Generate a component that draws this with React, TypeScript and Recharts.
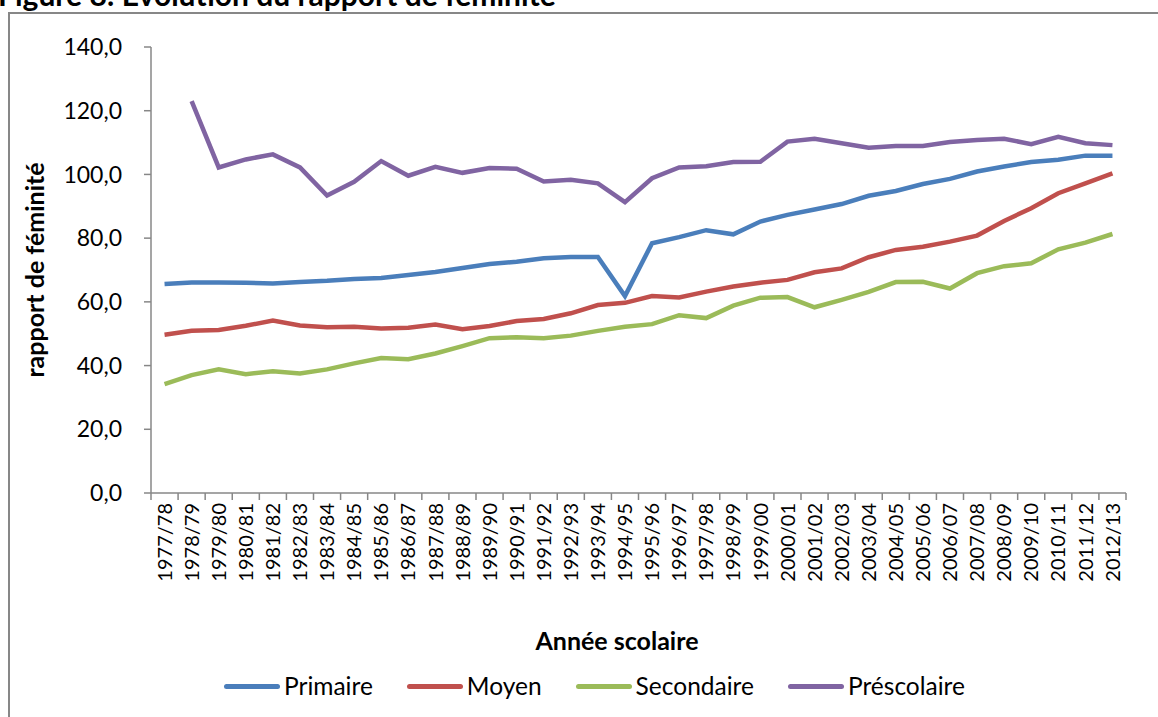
import React from 'react';
import { LineChart, Line, XAxis, YAxis } from 'recharts';

const years = [
  '1977/78', '1978/79', '1979/80', '1980/81', '1981/82', '1982/83', '1983/84', '1984/85', '1985/86',
  '1986/87', '1987/88', '1988/89', '1989/90', '1990/91', '1991/92', '1992/93', '1993/94', '1994/95',
  '1995/96', '1996/97', '1997/98', '1998/99', '1999/00', '2000/01', '2001/02', '2002/03', '2003/04',
  '2004/05', '2005/06', '2006/07', '2007/08', '2008/09', '2009/10', '2010/11', '2011/12', '2012/13',
];

const primaire = [
  65.6, 66.1, 66.1, 66.0, 65.8, 66.2, 66.6, 67.2, 67.5, 68.4, 69.4, 70.6, 71.9, 72.6, 73.7, 74.1, 74.1, 61.8,
  78.4, 80.3, 82.5, 81.2, 85.2, 87.3, 89.0, 90.7, 93.3, 94.8, 97.0, 98.6, 100.9, 102.5, 103.9, 104.6, 105.9, 105.9,
];
const moyen = [
  49.7, 50.9, 51.2, 52.5, 54.1, 52.6, 52.0, 52.2, 51.6, 51.9, 52.9, 51.4, 52.4, 54.0, 54.6, 56.4, 59.0, 59.7,
  61.8, 61.4, 63.2, 64.8, 66.0, 66.9, 69.3, 70.5, 74.0, 76.3, 77.3, 78.9, 80.8, 85.4, 89.4, 94.1, 97.2, 100.3,
];
const secondaire = [
  34.2, 37.0, 38.8, 37.3, 38.2, 37.5, 38.8, 40.7, 42.4, 42.0, 43.8, 46.1, 48.6, 48.9, 48.6, 49.4, 50.9, 52.2,
  53.0, 55.8, 54.9, 58.8, 61.3, 61.5, 58.3, 60.6, 63.1, 66.2, 66.3, 64.2, 69.0, 71.2, 72.1, 76.5, 78.6, 81.3,
];
const prescolaire: (number | null)[] = [
  null, 123.0, 102.2, 104.7, 106.3, 102.2, 93.4, 97.7, 104.2, 99.6, 102.4, 100.5, 102.0, 101.8, 97.8, 98.3, 97.2, 91.3,
  98.8, 102.2, 102.6, 103.9, 104.0, 110.3, 111.2, 109.8, 108.4, 108.9, 108.9, 110.2, 110.8, 111.2, 109.5, 111.8, 109.8, 109.2,
];

const yTicks = [0, 20, 40, 60, 80, 100, 120, 140];

const seriesKeys = ['primaire', 'moyen', 'secondaire', 'prescolaire'];
const seriesNames = ['Primaire', 'Moyen', 'Secondaire', 'Préscolaire'];
const seriesColors = ['#4A7EBB', '#C0504D', '#9BBB59', '#8064A2'];

const titleText = 'Figure 8: Evolution du rapport de féminité';
const xTitle = 'Année scolaire';
const yTitle = 'rapport de féminité';

const data = years.map((y, i) => ({
  year: y,
  primaire: primaire[i],
  moyen: moyen[i],
  secondaire: secondaire[i],
  prescolaire: prescolaire[i],
}));

const FONT = 'Lato, "Liberation Sans", sans-serif';
const AXIS_COLOR = '#878787';

const XTick = (props: any) => {
  const { x, y, payload, index, visibleTicksCount, width } = props;
  const off = payload && typeof payload.offset === 'number' && payload.offset > 0
    ? payload.offset
    : width / years.length / 2;
  const ty = y + 10;
  return (
    <g>
      <line x1={x - off} y1={y} x2={x - off} y2={y + 7} stroke={AXIS_COLOR} strokeWidth={1.5} />
      {index === visibleTicksCount - 1 && (
        <line x1={x + off} y1={y} x2={x + off} y2={y + 7} stroke={AXIS_COLOR} strokeWidth={1.5} />
      )}
      <text
        x={x}
        y={ty}
        transform={`rotate(-90 ${x} ${ty})`}
        textAnchor="end"
        dy="0.36em"
        fontSize={20}
        fontFamily={FONT}
        fill="#000"
      >
        {payload.value}
      </text>
    </g>
  );
};

export default function App() {
  return (
    <div style={{ position: 'absolute', left: 0, top: 0, width: 1158, height: 717, overflow: 'hidden', background: '#fff' }}>
      <div
        style={{
          position: 'absolute',
          left: 8,
          top: 12,
          width: 1200,
          height: 800,
          border: `2px solid ${AXIS_COLOR}`,
          boxSizing: 'border-box',
        }}
      />
      <svg style={{ position: 'absolute', left: 0, top: 0 }} width={1158} height={717}>
        <text x={-2} y={6} fontFamily={FONT} fontWeight="bold" fontSize={30} fill="#000">
          {titleText}
        </text>
        <text x={617} y={641} dy="0.35em" textAnchor="middle" fontFamily={FONT} fontWeight="bold" fontSize={25} fill="#000">
          {xTitle}
        </text>
        <text
          x={35}
          y={270}
          dy="0.35em"
          transform="rotate(-90 35 270)"
          textAnchor="middle"
          fontFamily={FONT}
          fontWeight="bold"
          fontSize={25}
          fill="#000"
        >
          {yTitle}
        </text>
      </svg>
      <div style={{ position: 'absolute', left: 0, top: 0 }}>
        <LineChart
          width={1158}
          height={717}
          data={data}
          margin={{ top: 47, right: 32, left: 51, bottom: 124 }}
        >
          <XAxis
            dataKey="year"
            scale="band"
            interval={0}
            height={100}
            tickSize={0}
            tickMargin={0}
            tickLine={false}
            axisLine={{ stroke: AXIS_COLOR, strokeWidth: 1.5 }}
            tick={<XTick />}
          />
          <YAxis
            width={100}
            domain={[0, 140]}
            ticks={yTicks}
            interval={0}
            tickSize={7}
            tickMargin={22}
            axisLine={{ stroke: AXIS_COLOR, strokeWidth: 1.5 }}
            tickLine={{ stroke: AXIS_COLOR, strokeWidth: 1.5 }}
            tick={{ fill: '#000', fontSize: 23, fontFamily: FONT }}
            tickFormatter={(v: number) => v.toFixed(1).replace('.', ',')}
          />
          {seriesKeys.map((k, i) => (
            <Line
              key={k}
              type="linear"
              dataKey={k}
              name={seriesNames[i]}
              stroke={seriesColors[i]}
              strokeWidth={4.5}
              dot={false}
              activeDot={false}
              connectNulls={false}
              isAnimationActive={false}
            />
          ))}
        </LineChart>
      </div>
      <div
        style={{
          position: 'absolute',
          left: 224,
          top: 671,
          display: 'flex',
          alignItems: 'center',
          gap: 34,
          fontFamily: FONT,
          fontSize: 24.5,
          color: '#000',
          whiteSpace: 'nowrap',
        }}
      >
        {seriesNames.map((n, i) => (
          <div key={n} style={{ display: 'flex', alignItems: 'center' }}>
            <div style={{ width: 56, height: 5, borderRadius: 3, background: seriesColors[i], marginRight: 4 }} />
            <span style={{ lineHeight: '30px' }}>{n}</span>
          </div>
        ))}
      </div>
    </div>
  );
}
